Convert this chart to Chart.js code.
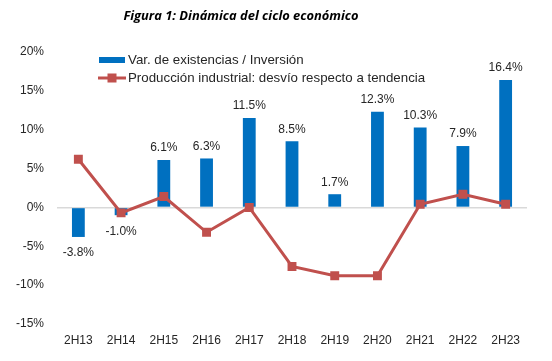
<!DOCTYPE html>
<html>
<head>
<meta charset="utf-8">
<script src="https://cdn.jsdelivr.net/npm/chart.js@4.4.0/dist/chart.umd.min.js"></script>
<style>
  html, body { margin: 0; padding: 0; background: #fff; overflow: hidden; }
  #wrap { width: 552px; height: 361px; position: relative; }
</style>
</head>
<body>
<div id="wrap"><canvas id="cycleChart"></canvas></div>
<script>
// Data
const periods = ['2H13', '2H14', '2H15', '2H16', '2H17', '2H18', '2H19', '2H20', '2H21', '2H22', '2H23'];
const inventoryVsInvestment = [-3.8, -1.0, 6.1, 6.3, 11.5, 8.5, 1.7, 12.3, 10.3, 7.9, 16.4];
const industrialGap = [6.2, -0.7, 1.4, -3.2, 0.0, -7.6, -8.8, -8.8, 0.4, 1.7, 0.4];
const yTicks = [-15, -10, -5, 0, 5, 10, 15, 20];

const titleText = 'Figura 1: Dinámica del ciclo económico';
const barLabel = 'Var. de existencias / Inversión';
const lineLabel = 'Producción industrial: desvío respecto a tendencia';

const BLUE = '#0070c0';
const RED = '#c0504d';
const FONT = "'Liberation Sans', Arial, sans-serif";

// Title, legend and bar value labels, drawn Excel-style
const decorations = {
    id: 'decorations',
    afterDatasetsDraw(chart) {
        const ctx = chart.ctx;
        ctx.save();

        // value labels on bars
        const meta = chart.getDatasetMeta(0);
        ctx.font = `12px ${FONT}`;
        ctx.fillStyle = '#262626';
        ctx.textAlign = 'center';
        ctx.textBaseline = 'middle';
        meta.data.forEach((bar, i) => {
            const v = inventoryVsInvestment[i];
            const y = v >= 0 ? bar.y - 12 : bar.y + 16;
            ctx.fillText(v.toFixed(1) + '%', bar.x, y);
        });

        // title
        ctx.font = `bold italic 12.9px 'Open Sans', ${FONT}`;
        ctx.fillStyle = '#000';
        ctx.fillText(titleText, 241, 16);

        // legend
        ctx.textAlign = 'left';
        ctx.font = `13.3px ${FONT}`;
        ctx.fillStyle = BLUE;
        ctx.fillRect(99, 57, 26, 6);
        ctx.fillStyle = '#262626';
        ctx.fillText(barLabel, 128, 60);

        ctx.strokeStyle = RED;
        ctx.lineWidth = 3;
        ctx.beginPath();
        ctx.moveTo(98, 78);
        ctx.lineTo(126, 78);
        ctx.stroke();
        ctx.fillStyle = RED;
        ctx.fillRect(107.5, 73.5, 9, 9);
        ctx.fillStyle = '#262626';
        ctx.fillText(lineLabel, 128, 78);

        ctx.restore();
    }
};

new Chart(document.getElementById('cycleChart'), {
    data: {
        labels: periods,
        datasets: [
            {
                type: 'bar',
                label: barLabel,
                data: inventoryVsInvestment,
                backgroundColor: BLUE,
                barPercentage: 0.6,
                categoryPercentage: 0.5,
                order: 2
            },
            {
                type: 'line',
                label: lineLabel,
                data: industrialGap,
                yAxisID: 'y2',
                borderColor: RED,
                borderWidth: 3,
                pointStyle: 'rect',
                pointRadius: 6.3,
                pointBackgroundColor: RED,
                pointBorderColor: RED,
                pointBorderWidth: 0,
                tension: 0,
                order: 1
            }
        ]
    },
    options: {
        responsive: true,
        maintainAspectRatio: false,
        animation: false,
        layout: { padding: { top: 52, right: 25, bottom: 0, left: 0 } },
        plugins: {
            legend: { display: false },
            tooltip: { enabled: false }
        },
        scales: {
            x: {
                grid: { display: false },
                border: { display: false },
                ticks: { color: '#262626', font: { size: 12, family: FONT }, padding: 1, maxRotation: 0 },
                afterFit: (axis) => { axis.height = 37; }
            },
            y: {
                min: -15,
                max: 20,
                afterBuildTicks: (axis) => { axis.ticks = yTicks.map(v => ({ value: v })); },
                ticks: {
                    color: '#262626',
                    font: { size: 12, family: FONT },
                    padding: 13,
                    callback: (v) => v + '%'
                },
                grid: {
                    color: (c) => c.tick && c.tick.value === 0 ? '#d9d9d9' : 'transparent',
                    lineWidth: 1.5,
                    drawTicks: false
                },
                border: { display: false },
                afterFit: (axis) => { axis.width = 57; }
            },
            y2: {
                display: false,
                min: -15,
                max: 20
            }
        }
    },
    plugins: [decorations]
});
</script>
</body>
</html>
